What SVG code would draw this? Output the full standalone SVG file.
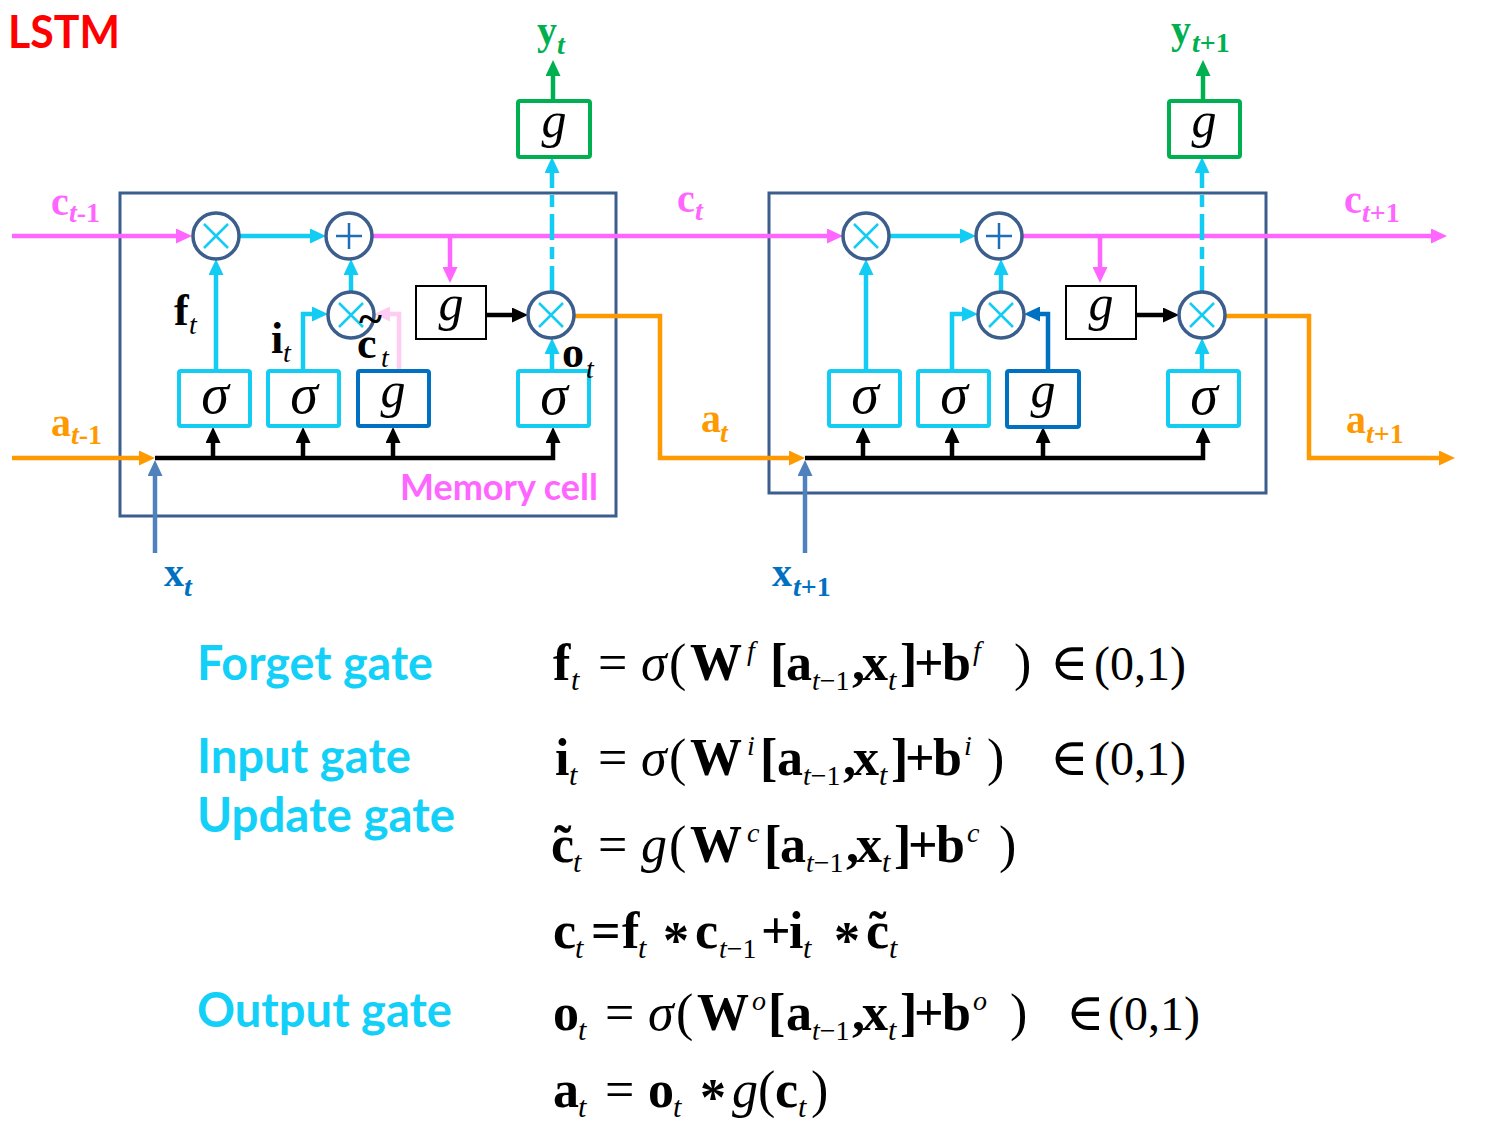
<svg xmlns="http://www.w3.org/2000/svg" width="1504" height="1125" viewBox="0 0 1504 1125">
<defs>
<style>
.cell{fill:none;stroke:#3B5E8C;stroke-width:3}
.op{fill:#fff;stroke:#3B5E8C;stroke-width:3.5}
.xs{stroke:#12CCF4;stroke-width:2.5}
.ps{stroke:#1F6FB8;stroke-width:2.5}
.bc{fill:#fff;stroke:#12CCF4;stroke-width:4}
.bd{fill:#fff;stroke:#0070C0;stroke-width:4}
.bk{fill:#fff;stroke:#000;stroke-width:2}
.bg{fill:#fff;stroke:#00B050;stroke-width:4}
.ln{fill:none;stroke-width:4.5}
.m{stroke:#FF66FF}
.c{stroke:#12CCF4}
.k{stroke:#000}
.o{stroke:#FF9900}
.g{stroke:#00B050}
.x{stroke:#4F81BD}
.d{stroke:#0070C0}
.p{stroke:#FFCCF2}
.dash{stroke-dasharray:26 7 12 7}
.lb{font-family:"Liberation Serif","DejaVu Serif",serif;font-weight:bold;font-size:40px}
.sb{font-size:28px;font-style:italic}
.bl{font-family:"Liberation Serif","DejaVu Serif",serif;font-size:44px;font-weight:bold;fill:#000}
.st{font-size:28px;font-style:italic;font-weight:normal}
.sym{font-family:"Liberation Serif","DejaVu Serif",serif;font-style:italic;fill:#000;text-anchor:middle}
.gt{font-family:Lato,"Open Sans","Liberation Sans",sans-serif;font-weight:bold}
.eq{font-family:"Liberation Serif","DejaVu Serif",serif;font-size:52px;fill:#000}
.eq .b{font-weight:bold}
.eq .i{font-style:italic}
.eq .s{font-size:30px;font-style:italic}
.eq .s2{font-size:28px;font-style:italic}
.eq .u{font-size:28px;font-style:italic}
.eq .n{font-style:normal}
.eq .r{font-size:48px}
</style>
<marker id="aM" viewBox="0 0 16 15" refX="8" refY="7.5" markerWidth="16" markerHeight="15" markerUnits="userSpaceOnUse" orient="auto"><path d="M0,0L16,7.5L0,15z" fill="#FF66FF"/></marker>
<marker id="aC" viewBox="0 0 16 15" refX="8" refY="7.5" markerWidth="16" markerHeight="15" markerUnits="userSpaceOnUse" orient="auto"><path d="M0,0L16,7.5L0,15z" fill="#12CCF4"/></marker>
<marker id="aK" viewBox="0 0 16 15" refX="8" refY="7.5" markerWidth="16" markerHeight="15" markerUnits="userSpaceOnUse" orient="auto"><path d="M0,0L16,7.5L0,15z" fill="#000"/></marker>
<marker id="aO" viewBox="0 0 16 15" refX="8" refY="7.5" markerWidth="16" markerHeight="15" markerUnits="userSpaceOnUse" orient="auto"><path d="M0,0L16,7.5L0,15z" fill="#FF9900"/></marker>
<marker id="aG" viewBox="0 0 16 15" refX="8" refY="7.5" markerWidth="16" markerHeight="15" markerUnits="userSpaceOnUse" orient="auto"><path d="M0,0L16,7.5L0,15z" fill="#00B050"/></marker>
<marker id="aX" viewBox="0 0 16 15" refX="8" refY="7.5" markerWidth="16" markerHeight="15" markerUnits="userSpaceOnUse" orient="auto"><path d="M0,0L16,7.5L0,15z" fill="#4F81BD"/></marker>
<marker id="aD" viewBox="0 0 16 15" refX="8" refY="7.5" markerWidth="16" markerHeight="15" markerUnits="userSpaceOnUse" orient="auto"><path d="M0,0L16,7.5L0,15z" fill="#0070C0"/></marker>
<marker id="aP" viewBox="0 0 16 15" refX="8" refY="7.5" markerWidth="16" markerHeight="15" markerUnits="userSpaceOnUse" orient="auto"><path d="M0,0L16,7.5L0,15z" fill="#FFCCF2"/></marker>
</defs>
<rect width="1504" height="1125" fill="#fff"/>

<text class="gt" x="8" y="48" font-size="46" fill="#FF0000" textLength="112" lengthAdjust="spacingAndGlyphs">LSTM</text>

<g id="cells">
<rect id="cell-t" class="cell" x="120" y="193" width="496" height="323"/>
<rect id="cell-t1" class="cell" x="769" y="193" width="497" height="300"/>
<text class="gt" x="400" y="500" font-size="36" fill="#FF66FF" textLength="198" lengthAdjust="spacingAndGlyphs">Memory cell</text>
</g>

<g id="connectors">
<path class="ln m" d="M12,236H184" marker-end="url(#aM)"/>
<path class="ln c" d="M239,236H318" marker-end="url(#aC)"/>
<path class="ln m" d="M372,236H835" marker-end="url(#aM)"/>
<path class="ln m" d="M450,236V275" marker-end="url(#aM)"/>
<path class="ln c" d="M889,236H968" marker-end="url(#aC)"/>
<path class="ln m" d="M1022,236H1439" marker-end="url(#aM)"/>
<path class="ln m" d="M1100,236V275" marker-end="url(#aM)"/>

<path class="ln c" d="M216,371V267" marker-end="url(#aC)"/>
<path class="ln c" d="M303,371V314H320" marker-end="url(#aC)"/>
<path class="ln p" d="M399,371V314H382" marker-end="url(#aP)"/>
<path class="ln c" d="M351,292V267" marker-end="url(#aC)"/>
<path class="ln k" d="M487,315H520" marker-end="url(#aK)"/>
<path class="ln c" d="M552,371V346" marker-end="url(#aC)"/>
<path class="ln c dash" d="M552,292V165" marker-end="url(#aC)"/>
<path class="ln g" d="M553,101V68" marker-end="url(#aG)"/>

<path class="ln c" d="M866,371V267" marker-end="url(#aC)"/>
<path class="ln c" d="M952,371V314H970" marker-end="url(#aC)"/>
<path class="ln d" d="M1048,371V314H1032" marker-end="url(#aD)"/>
<path class="ln c" d="M1001,292V267" marker-end="url(#aC)"/>
<path class="ln k" d="M1137,315H1171" marker-end="url(#aK)"/>
<path class="ln c" d="M1202,371V346" marker-end="url(#aC)"/>
<path class="ln c dash" d="M1202,292V165" marker-end="url(#aC)"/>
<path class="ln g" d="M1203,101V68" marker-end="url(#aG)"/>

<path class="ln k" d="M155,458H553V435" marker-end="url(#aK)"/>
<path class="ln k" d="M213,458V435" marker-end="url(#aK)"/>
<path class="ln k" d="M303,458V435" marker-end="url(#aK)"/>
<path class="ln k" d="M393,458V435" marker-end="url(#aK)"/>
<path class="ln k" d="M805,458H1203V435" marker-end="url(#aK)"/>
<path class="ln k" d="M863,458V435" marker-end="url(#aK)"/>
<path class="ln k" d="M952,458V435" marker-end="url(#aK)"/>
<path class="ln k" d="M1043,458V435" marker-end="url(#aK)"/>

<path class="ln o" d="M12,458H147" marker-end="url(#aO)"/>
<path class="ln x" d="M155,553V468" marker-end="url(#aX)"/>
<path class="ln x" d="M805,553V468" marker-end="url(#aX)"/>
<path class="ln o" d="M575,316H660V458H797" marker-end="url(#aO)"/>
<path class="ln o" d="M1225,316H1309V458H1447" marker-end="url(#aO)"/>
</g>

<g id="forget-mult-t"><circle class="op" cx="216" cy="236" r="23"/><path class="xs" d="M204,224L228,248M228,224L204,248"/></g>
<g id="add-t"><circle class="op" cx="349" cy="236" r="23"/><path class="ps" d="M349,223V249M336,236H362"/></g>
<g id="input-mult-t"><circle class="op" cx="351" cy="315" r="23"/><path class="xs" d="M339,303L363,327M363,303L339,327"/></g>
<g id="output-mult-t"><circle class="op" cx="551" cy="315" r="23"/><path class="xs" d="M539,303L563,327M563,303L539,327"/></g>
<g id="tanh-c-t"><rect class="bk" x="416" y="286" width="70" height="53"/><text class="sym" x="451" y="320" font-size="50">g</text></g>
<g id="forget-gate-t"><rect class="bc" x="179" y="371" width="71" height="55" rx="2"/><text class="sym" x="215" y="413" font-size="56">σ</text></g>
<g id="input-gate-t"><rect class="bc" x="268" y="371" width="71" height="55" rx="2"/><text class="sym" x="304" y="413" font-size="56">σ</text></g>
<g id="cand-t"><rect class="bd" x="358" y="371" width="71" height="55" rx="2"/><text class="sym" x="393" y="407" font-size="50">g</text></g>
<g id="output-gate-t"><rect class="bc" x="518" y="371" width="71" height="55" rx="2"/><text class="sym" x="554" y="414" font-size="56">σ</text></g>
<g id="y-t"><rect class="bg" x="518" y="101" width="72" height="56" rx="2"/><text class="sym" x="554" y="137" font-size="50">g</text></g>

<g id="forget-mult-t1"><circle class="op" cx="866" cy="236" r="23"/><path class="xs" d="M854,224L878,248M878,224L854,248"/></g>
<g id="add-t1"><circle class="op" cx="999" cy="236" r="23"/><path class="ps" d="M999,223V249M986,236H1012"/></g>
<g id="input-mult-t1"><circle class="op" cx="1001" cy="315" r="23"/><path class="xs" d="M989,303L1013,327M1013,303L989,327"/></g>
<g id="output-mult-t1"><circle class="op" cx="1202" cy="315" r="23"/><path class="xs" d="M1190,303L1214,327M1214,303L1190,327"/></g>
<g id="tanh-c-t1"><rect class="bk" x="1066" y="286" width="70" height="53"/><text class="sym" x="1101" y="320" font-size="50">g</text></g>
<g id="forget-gate-t1"><rect class="bc" x="829" y="371" width="71" height="55" rx="2"/><text class="sym" x="865" y="413" font-size="56">σ</text></g>
<g id="input-gate-t1"><rect class="bc" x="918" y="371" width="71" height="55" rx="2"/><text class="sym" x="954" y="413" font-size="56">σ</text></g>
<g id="cand-t1"><rect class="bd" x="1007" y="371" width="72" height="56" rx="2"/><text class="sym" x="1043" y="407" font-size="50">g</text></g>
<g id="output-gate-t1"><rect class="bc" x="1168" y="371" width="71" height="55" rx="2"/><text class="sym" x="1204" y="414" font-size="56">σ</text></g>
<g id="y-t1"><rect class="bg" x="1169" y="101" width="71" height="56" rx="2"/><text class="sym" x="1204" y="137" font-size="50">g</text></g>

<g id="labels">
<text class="lb" x="51" y="215" fill="#FF66FF">c<tspan class="sb" x="69" y="222"><tspan>t</tspan><tspan font-style="normal">-1</tspan></tspan></text>
<text class="lb" x="51" y="436" fill="#FF9900">a<tspan class="sb" x="71" y="444"><tspan>t</tspan><tspan font-style="normal">-1</tspan></tspan></text>
<text class="lb" x="677" y="212" fill="#FF66FF">c<tspan class="sb" x="695" y="220">t</tspan></text>
<text class="lb" x="701" y="432" fill="#FF9900">a<tspan class="sb" x="720" y="442">t</tspan></text>
<text class="lb" x="1344" y="213" fill="#FF66FF">c<tspan class="sb" x="1362" y="222"><tspan>t</tspan><tspan font-style="normal">+1</tspan></tspan></text>
<text class="lb" x="1346" y="433" fill="#FF9900">a<tspan class="sb" x="1366" y="443"><tspan>t</tspan><tspan font-style="normal">+1</tspan></tspan></text>
<text class="lb" x="537" y="44" fill="#00B050">y<tspan class="sb" x="557" y="54">t</tspan></text>
<text class="lb" x="1171" y="43" fill="#00B050">y<tspan class="sb" x="1192" y="52"><tspan>t</tspan><tspan font-style="normal">+1</tspan></tspan></text>
<text class="lb" x="164" y="586" fill="#0070C0">x<tspan class="sb" x="184" y="596">t</tspan></text>
<text class="lb" x="772" y="586" fill="#0070C0">x<tspan class="sb" x="793" y="596"><tspan>t</tspan><tspan font-style="normal">+1</tspan></tspan></text>

<text class="bl" x="174" y="325">f<tspan class="st" x="189" y="334">t</tspan></text>
<text class="bl" x="271" y="353">i<tspan class="st" x="283" y="362">t</tspan></text>
<text class="bl" x="357" y="358">c<tspan class="st" x="381" y="367">t</tspan></text>
<text class="bl" x="359" y="333" font-size="40">~</text>
<text class="bl" x="562" y="367">o<tspan class="st" x="586" y="378">t</tspan></text>
</g>

<g id="gate-names" fill="#12D0F8">
<text class="gt" x="197" y="680" font-size="48" textLength="236" lengthAdjust="spacingAndGlyphs">Forget gate</text>
<text class="gt" x="197" y="773" font-size="48" textLength="214" lengthAdjust="spacingAndGlyphs">Input gate</text>
<text class="gt" x="197" y="832" font-size="48" textLength="258" lengthAdjust="spacingAndGlyphs">Update gate</text>
<text class="gt" x="197" y="1027" font-size="48" textLength="255" lengthAdjust="spacingAndGlyphs">Output gate</text>
</g>

<g id="equations">
<text class="eq" x="553" y="680"><tspan class="b">f</tspan><tspan class="s" x="571" y="690">t</tspan><tspan x="598" y="680">=</tspan><tspan class="i" x="641">σ</tspan><tspan x="669">(</tspan><tspan class="b" x="690">W</tspan><tspan class="u" x="747" y="660">f</tspan><tspan class="b" x="770" y="680">[</tspan><tspan class="b" x="786">a</tspan><tspan class="s2" x="812" y="690">t<tspan class="n">−1</tspan></tspan><tspan class="b" x="852" y="680">,</tspan><tspan class="b" x="862">x</tspan><tspan class="s" x="888" y="690">t</tspan><tspan class="b" x="900" y="680">]</tspan><tspan class="b" x="914">+</tspan><tspan class="b" x="942">b</tspan><tspan class="u" x="973" y="660">f</tspan><tspan x="1014" y="680">)</tspan><tspan x="1050">∈</tspan><tspan class="r" x="1094">(0,1)</tspan></text>

<text class="eq" x="555" y="775"><tspan class="b">i</tspan><tspan class="s" x="569" y="785">t</tspan><tspan x="598" y="775">=</tspan><tspan class="i" x="641">σ</tspan><tspan x="669">(</tspan><tspan class="b" x="690">W</tspan><tspan class="u" x="747" y="755">i</tspan><tspan class="b" x="760" y="775">[</tspan><tspan class="b" x="777">a</tspan><tspan class="s2" x="803" y="785">t<tspan class="n">−1</tspan></tspan><tspan class="b" x="843" y="775">,</tspan><tspan class="b" x="853">x</tspan><tspan class="s" x="879" y="785">t</tspan><tspan class="b" x="891" y="775">]</tspan><tspan class="b" x="905">+</tspan><tspan class="b" x="933">b</tspan><tspan class="u" x="964" y="755">i</tspan><tspan x="987" y="775">)</tspan><tspan x="1050">∈</tspan><tspan class="r" x="1094">(0,1)</tspan></text>

<text class="eq" x="551" y="862"><tspan class="b">c</tspan><tspan class="s" x="573" y="872">t</tspan><tspan x="598" y="862">=</tspan><tspan class="i" x="641">g</tspan><tspan x="669">(</tspan><tspan class="b" x="690">W</tspan><tspan class="u" x="747" y="842">c</tspan><tspan class="b" x="764" y="862">[</tspan><tspan class="b" x="780">a</tspan><tspan class="s2" x="806" y="872">t<tspan class="n">−1</tspan></tspan><tspan class="b" x="846" y="862">,</tspan><tspan class="b" x="856">x</tspan><tspan class="s" x="882" y="872">t</tspan><tspan class="b" x="894" y="862">]</tspan><tspan class="b" x="908">+</tspan><tspan class="b" x="936">b</tspan><tspan class="u" x="967" y="842">c</tspan><tspan x="999" y="862">)</tspan></text>
<text class="eq" x="554" y="862"><tspan class="b">˜</tspan></text>

<text class="eq" x="553" y="948"><tspan class="b">c</tspan><tspan class="s" x="575" y="958">t</tspan><tspan class="b" x="591" y="948">=</tspan><tspan class="b" x="622">f</tspan><tspan class="s" x="638" y="958">t</tspan><tspan class="b" x="663" y="958">*</tspan><tspan class="b" x="695" y="948">c</tspan><tspan class="s2" x="719" y="958">t<tspan class="n">−1</tspan></tspan><tspan class="b" x="761" y="948">+</tspan><tspan class="b" x="789">i</tspan><tspan class="s" x="803" y="958">t</tspan><tspan class="b" x="834" y="958">*</tspan><tspan class="b" x="866" y="948">c</tspan><tspan class="s" x="889" y="958">t</tspan></text>
<text class="eq" x="869" y="948"><tspan class="b">˜</tspan></text>

<text class="eq" x="553" y="1030"><tspan class="b">o</tspan><tspan class="s" x="578" y="1040">t</tspan><tspan x="605" y="1030">=</tspan><tspan class="i" x="648">σ</tspan><tspan x="676">(</tspan><tspan class="b" x="697">W</tspan><tspan class="u" x="752" y="1010">o</tspan><tspan class="b" x="768" y="1030">[</tspan><tspan class="b" x="786">a</tspan><tspan class="s2" x="812" y="1040">t<tspan class="n">−1</tspan></tspan><tspan class="b" x="852" y="1030">,</tspan><tspan class="b" x="862">x</tspan><tspan class="s" x="888" y="1040">t</tspan><tspan class="b" x="900" y="1030">]</tspan><tspan class="b" x="914">+</tspan><tspan class="b" x="942">b</tspan><tspan class="u" x="973" y="1010">o</tspan><tspan x="1010" y="1030">)</tspan><tspan x="1066">∈</tspan><tspan class="r" x="1108">(0,1)</tspan></text>

<text class="eq" x="553" y="1107"><tspan class="b">a</tspan><tspan class="s" x="578" y="1117">t</tspan><tspan x="605" y="1107">=</tspan><tspan class="b" x="648">o</tspan><tspan class="s" x="673" y="1117">t</tspan><tspan class="b" x="700" y="1115">*</tspan><tspan class="i" x="732" y="1107">g</tspan><tspan x="758">(</tspan><tspan class="b" x="775">c</tspan><tspan class="s" x="798" y="1117">t</tspan><tspan x="811" y="1107">)</tspan></text>
</g>
</svg>
